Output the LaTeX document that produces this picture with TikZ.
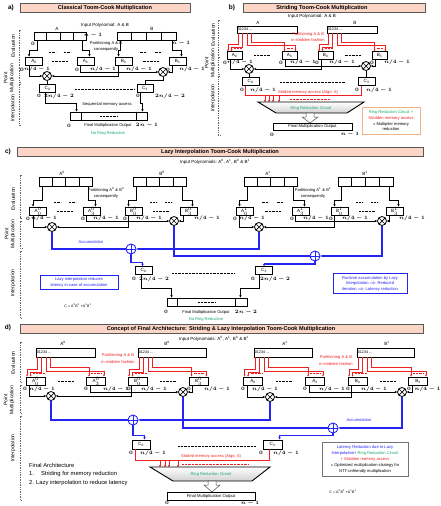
\documentclass[tikz,border=0pt]{standalone}
\usepackage{fontspec}
\setmainfont{Liberation Sans}
\usetikzlibrary{arrows.meta,calc}
\definecolor{tfill}{RGB}{251,213,198}
\definecolor{rred}{RGB}{238,32,36}
\definecolor{bblue}{RGB}{36,36,245}
\definecolor{ggreen}{RGB}{24,168,108}
\definecolor{oborder}{RGB}{242,178,138}
\newcounter{lc}
\newcommand\Sup[3]{$\textrm{#1}^{#2}_{#3}$}
\newcommand\zl[3]{\stepcounter{lc}\node[lb] (z\thelc) at (#1,#2) {$#3$};}
\newcommand\tl[4][]{\stepcounter{lc}\node[tx,#1] (t\thelc) at (#2,#3) {#4};}
\newcommand\arrdiv[1]{\foreach \f in {0.25,0.5,0.75}{\draw[ln] ($(#1.north west)!\f!(#1.north east)$) -- ($(#1.south west)!\f!(#1.south east)$);}}
\newcommand\blkfan[4]{%
 \draw[arr] ($(#1.south west)+(4,0)$) -- ++(0,#4) -| ($(#2.north west)+(4,0)$);
 \draw[arr] ($(#1.south east)+(-4,0)$) -- ++(0,#4) -| ($(#3.north east)+(-5,0)$);}
\newcommand\redfan[3]{%
 \draw[rarr] ($(#1.south west)+(2,0)$) |- ($(#2.north west)+(1.5,-7)$) -- ($(#2.north west)+(1.5,0)$);
 \draw[rarr] ($(#1.south west)+(6,0)$) |- ($(#2.north west)+(5,-4)$) -- ($(#2.north west)+(5,0)$);
 \draw[rarr] ($(#1.south west)+(15,0)$) |- ($(#3.north west)+(3,-9)$) -- ($(#3.north west)+(3,0)$);
 \draw[rarr] ($(#1.south west)+(11,0)$) |- ($(#3.north east)+(-2,-5.5)$) -- ($(#3.north east)+(-2,0)$);
 \draw[rdts] ($(#2.north west)+(7.5,-3)$) -- ($(#2.north east)+(-1,-3)$);
 \draw[rdts] ($(#3.north west)+(5,-3)$) -- ($(#3.north east)+(-4,-3)$);}
\newcommand\mulnet[6]{%
 \draw[arr] ($(#1.south west)+(4,0)$) |- (#5.west);
 \draw[arr] ($(#3.south west)+(4,0)$) |- (#5.east);
 \draw[arr] ($(#2.south west)+(4,0)$) |- (#6.west);
 \draw[arr] ($(#4.south west)+(4,0)$) |- (#6.east);}
\newcommand\topdots[2]{\path ($(#1)!0.5!(#2)$) coordinate (gc);
 \draw[dts] ($(gc)+(-11,-9)$) -- ++(7,0);
 \draw[dts] ($(gc)+(4,-9)$) -- ++(7,0);}
\newcommand\longdots[2]{\path ($(#1)!0.5!(#2)$) coordinate (gc);
 \draw[dts] ($(gc)+(-8,0)$) -- ++(16,0);}
\newcommand\brackets[7]{%
 \draw[brk] (#1+2,#2) -- (#1,#2) -- (#1,#3) -- (#1+2,#3);
 \draw[brk] (#1+2,#4) -- (#1,#4) -- (#1,#5) -- (#1+2,#5);
 \draw[brk] (#1+2,#6) -- (#1,#6) -- (#1,#7) -- (#1+2,#7);}
\begin{document}
\begin{tikzpicture}[x=1pt,y=-1pt,
 ln/.style={line width=0.9pt},
 arr/.style={line width=0.9pt,-{Stealth[length=2.5pt,width=2.3pt]}},
 rln/.style={rred,line width=0.75pt},
 rarr/.style={rred,line width=0.7pt,-{Stealth[length=2pt,width=2pt]}},
 bln/.style={bblue,line width=1.1pt},
 barr/.style={bblue,line width=1.1pt,-{Stealth[length=2.7pt,width=2.5pt]}},
 arrbox/.style={draw,line width=0.9pt,fill=white,inner sep=0,minimum height=8pt},
 seg/.style={draw,line width=0.9pt,fill=white,inner sep=0,minimum width=17pt,minimum height=8pt,font=\fontsize{4.6}{5}\selectfont},
 tx/.style={inner sep=0,font=\fontsize{4.1}{5}\selectfont},
 lb/.style={inner sep=0,font=\fontsize{4.7}{5}\selectfont\boldmath},
 ttl/.style={inner sep=0,font=\bfseries\fontsize{5.6}{6}\selectfont},
 tbar/.style={draw=black!65,fill=tfill,line width=0.7pt},
 plab/.style={inner sep=0,font=\bfseries\fontsize{6.5}{7}\selectfont},
 side/.style={rotate=90,inner sep=0,align=center,font=\fontsize{5}{6}\selectfont},
 brk/.style={black!60,line width=0.4pt,dash pattern=on 1pt off 0.7pt},
 dts/.style={line width=0.8pt,dash pattern=on 0.5pt off 0.9pt},
 rdts/.style={rred,line width=0.8pt,dash pattern=on 0.5pt off 0.9pt},
 mult/.style={circle,draw,line width=0.8pt,fill=white,minimum size=9pt,inner sep=0,
   path picture={\draw[line width=0.7pt] (path picture bounding box.south west)--(path picture bounding box.north east) (path picture bounding box.north west)--(path picture bounding box.south east);}},
 adder/.style={circle,draw=bblue,line width=0.9pt,fill=white,minimum size=10pt,inner sep=0,
   path picture={\draw[bblue,line width=0.8pt] (path picture bounding box.north)--(path picture bounding box.south) (path picture bounding box.west)--(path picture bounding box.east);}},
 hollow/.style={draw=black!70,fill=white,line width=0.5pt},
 trap/.style={line width=0.9pt,top color=white,bottom color=black!18},
]
\fill[white] (0,0) rectangle (440,506);
\useasboundingbox (0,0) rectangle (440,506);

%%%%%%%%%%%%%%%% PANEL A
\draw[tbar] (20,3) rectangle (190,12);
\node[ttl] (ta) at (105,7.6) {Classical Toom-Cook Multiplication};
\node[plab] (pa) at (11,7.5) {a)};
\tl[font=\fontsize{4.5}{5}\selectfont]{105}{25}{Input Polynomial: A \& B}
\node[arrbox,minimum width=52pt] (aA) at (60,36) {}; \arrdiv{aA}
\node[arrbox,minimum width=59pt] (aB) at (146.5,36) {}; \arrdiv{aB}
\tl[font=\fontsize{4.6}{5}\selectfont]{57}{28.5}{A}
\tl[font=\fontsize{4.6}{5}\selectfont]{152}{28.5}{B}
\zl{93}{35.5}{n-1} \zl{33}{43.5}{0} \zl{181}{43.5}{n-1}
\tl{106}{43.5}{Partitioning A \& B}
\tl{106}{49.5}{consequently}
\node[seg] (aA0) at (34,61) {A\textsubscript{0}};
\node[seg] (aA3) at (85.5,61) {A\textsubscript{3}};
\node[seg] (aB0) at (123.5,61) {B\textsubscript{0}};
\node[seg] (aB3) at (177.5,61) {B\textsubscript{3}};
\blkfan{aA}{aA0}{aA3}{10}
\blkfan{aB}{aB0}{aB3}{10}
\topdots{aA0}{aA3} \longdots{aA0}{aA3}
\topdots{aB0}{aB3} \longdots{aB0}{aB3}
\zl{22}{69.5}{0} \zl{37}{69.5}{n/4-1}
\zl{77}{69.5}{0} \zl{103}{69.5}{n/4-1}
\zl{139}{69.5}{n/4-1}
\zl{168}{69.5}{0} \zl{192}{69.5}{n/4-1}
\node[mult] (am1) at (47,76) {};
\node[mult] (am2) at (163,72) {};
\mulnet{aA0}{aA3}{aB0}{aB3}{am1}{am2}
\node[seg,minimum width=16pt] (aC0) at (47.5,88) {C\textsubscript{0}};
\node[seg,minimum width=16pt] (aC3) at (145,88) {C\textsubscript{3}};
\draw[ln] (am1.south) -- (am1.south |- aC0.north);
\draw[ln] (am2.south) -- ++(0,4) -| (aC3.north);
\draw[dts] (75,89) -- (135,89);
\zl{39}{96}{0} \zl{59}{96}{2n/4-2}
\zl{138}{96}{0} \zl{170}{96}{2n/4-2}
\node[arrbox,minimum width=77pt] (aF) at (108.5,116) {};
\draw[ln] ($(aF.north west)+(12,0)$) -- ($(aF.south west)+(12,0)$);
\draw[ln] ($(aF.north east)+(-11,0)$) -- ($(aF.south east)+(-11,0)$);
\draw[dts] (100,116) -- (118,116);
\draw[arr] ($(aC0.south west)+(6,0)$) -- ++(0,11) -| ($(aF.north west)+(7,0)$);
\draw[arr] ($(aC3.south west)+(4,0)$) -- ++(0,11) -| ($(aF.north east)+(-5,0)$);
\tl{107}{104}{Sequential memory access}
\zl{69}{125.5}{0}
\tl{108}{125.5}{Final Multiplication Output}
\zl{147}{125.5}{2n-1}
\tl[text=ggreen]{108}{133}{No Ring Reduction}
\brackets{19}{30}{68}{70}{82}{84}{125}
\node[side] (sa1) at (13,46) {Evaluation};
\node[side] (sa2) at (9,78) {Point\\Multiplication};
\node[side] (sa3) at (13,108) {Interpolation};

%%%%%%%%%%%%%%%% PANEL B
\draw[tbar] (243,3) rectangle (425,12);
\node[ttl] (tb) at (322,7.6) {Striding Toom-Cook Multiplication};
\node[plab] (pb) at (232,7.5) {b)};
\tl[font=\fontsize{4.5}{5}\selectfont]{312}{16}{Input Polynomial: A \& B}
\node[arrbox,minimum width=60pt,minimum height=7pt] (bA) at (267,29.5) {};
\node[arrbox,minimum width=50pt,minimum height=7pt] (bB) at (352,29.5) {};
\node[tx,anchor=west,font=\fontsize{3.8}{4}\selectfont] (bAt) at ($(bA.west)+(1,0)$) {01234 ...};
\node[tx,anchor=west,font=\fontsize{3.8}{4}\selectfont] (bBt) at ($(bB.west)+(1,0)$) {01234 ...};
\tl[font=\fontsize{4.6}{5}\selectfont]{258}{22.5}{A}
\tl[font=\fontsize{4.6}{5}\selectfont]{355}{22.5}{B}
\tl[text=rred]{308}{34}{Partitioning A \& B}
\tl[text=rred]{308}{40.5}{in stridden fashion}
\node[seg,minimum width=15pt,minimum height=7.5pt] (bA0) at (234.5,55.5) {A\textsubscript{0}};
\node[seg,minimum width=15pt,minimum height=7.5pt] (bA3) at (289.5,55.5) {A\textsubscript{3}};
\node[seg,minimum width=15pt,minimum height=7.5pt] (bB0) at (325.5,55.5) {B\textsubscript{0}};
\node[seg,minimum width=15pt,minimum height=7.5pt] (bB3) at (379.5,55.5) {B\textsubscript{3}};
\redfan{bA}{bA0}{bA3}
\redfan{bB}{bB0}{bB3}
\longdots{bA0}{bA3} \longdots{bB0}{bB3}
\zl{225}{62.5}{0} \zl{240}{62.5}{n/4-1}
\zl{281}{62.5}{0} \zl{303}{62.5}{n/4-1}
\zl{317}{62.5}{0} \zl{342}{62.5}{n/4-1}
\zl{372}{62.5}{0} \zl{397}{62.5}{n/4-1}
\node[mult] (bm1) at (249,69) {};
\node[mult] (bm2) at (366,66) {};
\mulnet{bA0}{bA3}{bB0}{bB3}{bm1}{bm2}
\node[seg] (bC0) at (250.5,81.5) {C\textsubscript{0}};
\node[seg] (bC3) at (366.5,81.5) {C\textsubscript{3}};
\draw[ln] (bm1.south) -- (bm1.south |- bC0.north);
\draw[ln] (bm2.south) -- (bm2.south |- bC3.north);
\draw[dts] (280,82) -- (345,82);
\zl{242}{90}{0} \zl{263}{90}{n/4-1}
\zl{357}{90}{0} \zl{379}{90}{n/4-1}
\tl[text=rred]{308}{92}{Strided memory access (Algo. 6)}
\draw[rln] ($(bC0.south west)+(4,0)$) -- ++(0,9.5) -| ($(bC3.south west)+(4,0)$);
\coordinate (bT1) at (258,102); \coordinate (bT2) at (364,102);
\coordinate (bT3) at (347,113); \coordinate (bT4) at (276,113);
\foreach \x in {265,269,273,279}{\draw[rarr] (\x,95) -- (\x,102);}
\draw[rdts] (290,99) -- (330,99);
\draw[trap] (bT1) -- (bT2) -- (bT3) -- (bT4) -- cycle;
\tl[text=ggreen]{311}{108}{Ring Reduction Circuit}
\draw[hollow] (306,113) -- (314,113) -- (314,117) -- (318,117) -- (310,123) -- (302,117) -- (306,117) -- cycle;
\node[arrbox,minimum width=79pt,minimum height=7pt,font=\fontsize{4.2}{5}\selectfont] (bF) at (312.5,126.5) {Final Multiplication Output};
\zl{272}{134.5}{0} \zl{350}{134.5}{n-1}
\draw[oborder,line width=0.7pt] (362,107) rectangle (420,134);
\tl[text=ggreen]{391}{112}{Ring Reduction Circuit +}
\tl[text=rred]{391}{118}{Stridden memory access}
\tl{391}{124}{= Multiplier memory}
\tl{391}{129.5}{reduction}
\brackets{218}{20}{55}{57}{74}{76}{135}
\node[side] (sb1) at (213,35) {Evaluation};
\node[side] (sb2) at (210,63) {Point\\Multiplication};
\node[side] (sb3) at (213,98) {Interpolation};

%%%%%%%%%%%%%%%% PANEL C
\draw[tbar] (17,147) rectangle (423,156);
\node[ttl] (tc) at (220,151.6) {Lazy Interpolation Toom-Cook Multiplication};
\node[plab] (pc) at (8,152) {c)};
\tl[font=\fontsize{4.5}{5}\selectfont]{215}{162}{Input Polynomials: A\textsuperscript{0}, A\textsuperscript{1}, B\textsuperscript{0} \& B\textsuperscript{1}}
\node[arrbox,minimum width=53pt,minimum height=9pt] (cA0) at (65.5,181.5) {}; \arrdiv{cA0}
\node[arrbox,minimum width=53pt,minimum height=9pt] (cB0) at (159.5,181.5) {}; \arrdiv{cB0}
\node[arrbox,minimum width=53pt,minimum height=9pt] (cA1) at (270.5,181.5) {}; \arrdiv{cA1}
\node[arrbox,minimum width=55pt,minimum height=9pt] (cB1) at (365.5,181.5) {}; \arrdiv{cB1}
\tl[font=\fontsize{4.6}{5}\selectfont]{62}{173}{A\textsuperscript{0}}
\tl[font=\fontsize{4.6}{5}\selectfont]{162}{173}{B\textsuperscript{0}}
\tl[font=\fontsize{4.6}{5}\selectfont]{268}{173}{A\textsuperscript{1}}
\tl[font=\fontsize{4.6}{5}\selectfont]{365}{173}{B\textsuperscript{1}}
\tl{106}{190}{Partitioning A\textsuperscript{0} \& B\textsuperscript{0}}
\tl{106}{196}{consequently}
\tl{313}{190}{Partitioning A\textsuperscript{1} \& B\textsuperscript{1}}
\tl{313}{196}{consequently}
\node[seg] (cA00) at (38,211) {\Sup{A}{0}{0}};
\node[seg] (cA03) at (91.5,211) {\Sup{A}{0}{3}};
\node[seg] (cB00) at (133.5,211) {\Sup{B}{0}{0}};
\node[seg] (cB03) at (188.5,211) {\Sup{B}{0}{3}};
\node[seg] (cA10) at (244.5,211) {\Sup{A}{1}{0}};
\node[seg] (cA13) at (300.5,211) {\Sup{A}{1}{3}};
\node[seg] (cB10) at (339.5,211) {\Sup{B}{1}{0}};
\node[seg] (cB13) at (394.5,211) {\Sup{B}{1}{3}};
\blkfan{cA0}{cA00}{cA03}{14} \blkfan{cB0}{cB00}{cB03}{14}
\blkfan{cA1}{cA10}{cA13}{14} \blkfan{cB1}{cB10}{cB13}{14}
\topdots{cA00}{cA03} \longdots{cA00}{cA03}
\topdots{cB00}{cB03} \longdots{cB00}{cB03}
\topdots{cA10}{cA13} \longdots{cA10}{cA13}
\topdots{cB10}{cB13} \longdots{cB10}{cB13}
\zl{28}{218.5}{0} \zl{44}{218.5}{n/4-1}
\zl{83}{218.5}{0} \zl{106}{218.5}{n/4-1}
\zl{125}{218.5}{0} \zl{149}{218.5}{n/4-1}
\zl{207}{218.5}{n/4-1}
\zl{235}{218.5}{0} \zl{252}{218.5}{n/4-1}
\zl{292}{218.5}{0} \zl{316}{218.5}{n/4-1}
\zl{331}{218.5}{0} \zl{355}{218.5}{n/4-1}
\zl{412}{218.5}{n/4-1}
\node[mult] (cm1) at (52,227) {};
\node[mult] (cm2) at (174,221) {};
\node[mult] (cm3) at (259,227) {};
\node[mult] (cm4) at (382,221) {};
\mulnet{cA00}{cA03}{cB00}{cB03}{cm1}{cm2}
\mulnet{cA10}{cA13}{cB10}{cB13}{cm3}{cm4}
\node[adder] (cp1) at (131,249) {};
\node[adder] (cp2) at (315,256) {};
\node[seg,minimum height=7.5pt] (cC0) at (143.5,270.5) {C\textsubscript{0}};
\node[seg,minimum height=7.5pt] (cC3) at (264,270.5) {C\textsubscript{3}};
\draw[bln] (cm1.south) |- (cp1.west);
\draw[barr] (cm3.south) |- (cp1.east);
\draw[barr] (cp1.south) -- ++(0,8) -| ($(cC0.north west)+(8,0)$);
\draw[bln] (cm2.south) |- (cp2.west);
\draw[barr] (cm4.south) |- (cp2.east);
\draw[barr] (cp2.south) -- ++(0,2.5) -| ($(cC3.north west)+(9,0)$);
\tl[text=bblue]{91}{242}{Accumulation}
\draw[dts] (172,273) -- (235,273);
\zl{134}{279}{0} \zl{154}{279}{2n/4-2}
\zl{253}{279}{0} \zl{275}{279}{2n/4-2}
\node[arrbox,minimum width=80pt] (cF) at (207,302) {};
\draw[ln] ($(cF.north west)+(11,0)$) -- ($(cF.south west)+(11,0)$);
\draw[ln] ($(cF.north east)+(-12,0)$) -- ($(cF.south east)+(-12,0)$);
\draw[dts] (198,302) -- (215,302);
\draw[arr] ($(cC0.south west)+(7,0)$) -- ++(0,13.5) -| ($(cF.north west)+(5,0)$);
\draw[arr] ($(cC3.south west)+(4,0)$) -- ++(0,13.5) -| ($(cF.north east)+(-7,0)$);
\zl{166}{312}{0}
\tl{206}{312}{Final Multiplication Output}
\zl{246}{312}{2n-2}
\tl[text=ggreen]{206}{319}{No Ring Reduction}
\draw[bblue,line width=0.6pt] (40,275) rectangle (118,289);
\tl[text=bblue]{79}{279.5}{Lazy interpolation reduces}
\tl[text=bblue]{79}{285}{latency in case of accumulation}
\tl[font=\fontsize{3.6}{4}\selectfont]{78}{306}{C = A\textsuperscript{0}B\textsuperscript{0} +A\textsuperscript{1}B\textsuperscript{1}}
\draw[bblue,line width=0.6pt] (333,273) rectangle (407,293);
\tl[text=bblue]{370}{278}{Runtime accumulation by Lazy}
\tl[text=bblue]{370}{283.5}{Interpolation $\Rightarrow$ Reduced}
\tl[text=bblue]{370}{289}{iteration $\Rightarrow$ Latency reduction}
\brackets{20}{175}{218}{221}{248}{251}{318}
\node[side] (sc1) at (13,199) {Evaluation};
\node[side] (sc2) at (10,234) {Point\\Multiplication};
\node[side] (sc3) at (13,283) {Interpolation};

%%%%%%%%%%%%%%%% PANEL D
\draw[tbar] (20,324) rectangle (423,333);
\node[ttl] (td) at (221,328.6) {Concept of Final Architecture: Striding \& Lazy Interpolation Toom-Cook Multiplication};
\node[plab] (pd) at (8,328) {d)};
\tl[font=\fontsize{4.5}{5}\selectfont]{214}{339}{Input Polynomials: A\textsuperscript{0}, A\textsuperscript{1}, B\textsuperscript{0} \& B\textsuperscript{1}}
\node[arrbox,minimum width=59pt,minimum height=9pt] (dA0) at (65.5,352.5) {};
\node[arrbox,minimum width=68pt,minimum height=9pt] (dB0) at (172,352.5) {};
\node[arrbox,minimum width=58pt,minimum height=9pt] (dA1) at (283,352.5) {};
\node[arrbox,minimum width=57pt,minimum height=9pt] (dB1) at (385.5,352.5) {};
\foreach \n in {dA0,dB0,dA1,dB1}{\node[tx,anchor=west,font=\fontsize{3.8}{4}\selectfont] (\n t) at ($(\n.west)+(1,0)$) {01234 ...};}
\tl[font=\fontsize{4.6}{5}\selectfont]{63}{343.5}{A\textsuperscript{0}}
\tl[font=\fontsize{4.6}{5}\selectfont]{167}{343.5}{B\textsuperscript{0}}
\tl[font=\fontsize{4.6}{5}\selectfont]{285}{343.5}{A\textsuperscript{1}}
\tl[font=\fontsize{4.6}{5}\selectfont]{387}{343.5}{B\textsuperscript{1}}
\tl[text=rred]{118}{355.5}{Partitioning A \& B}
\tl[text=rred]{118}{362.5}{in stridden fashion}
\tl[text=rred]{336}{357.5}{Partitioning A \& B}
\tl[text=rred]{336}{364}{in stridden fashion}
\node[seg,minimum width=19pt] (dA00) at (35.5,381) {\Sup{A}{0}{0}};
\node[seg,minimum width=19pt] (dA03) at (96,381) {\Sup{A}{0}{3}};
\node[seg,minimum width=19pt] (dB00) at (137.5,381) {\Sup{B}{0}{0}};
\node[seg,minimum width=19pt] (dB03) at (198.5,381) {\Sup{B}{0}{3}};
\node[seg,minimum width=19pt] (dA10) at (253,381) {A\textsubscript{0}};
\node[seg,minimum width=19pt] (dA13) at (315,381) {A\textsubscript{3}};
\node[seg,minimum width=19pt] (dB10) at (357.5,381) {B\textsubscript{0}};
\node[seg,minimum width=19pt] (dB13) at (418,381) {B\textsubscript{3}};
\redfan{dA0}{dA00}{dA03} \redfan{dB0}{dB00}{dB03}
\redfan{dA1}{dA10}{dA13} \redfan{dB1}{dB10}{dB13}
\longdots{dA00}{dA03} \longdots{dB00}{dB03}
\longdots{dA10}{dA13} \longdots{dB10}{dB13}
\zl{25}{389}{0} \zl{42}{389}{n/4-1}
\zl{86}{389}{0} \zl{116}{389}{n/4-1}
\zl{129}{389}{0} \zl{154}{389}{n/4-1}
\zl{189}{389}{0} \zl{217}{389}{n/4-1}
\zl{243}{389}{0} \zl{265}{389}{n/4-1}
\zl{305}{389}{0} \zl{332}{389}{n/4-1}
\zl{348}{389}{0} \zl{374}{389}{n/4-1}
\zl{409}{389}{0} \zl{427.5}{389}{n/4-1}
\node[mult] (dm1) at (51,396) {};
\node[mult] (dm2) at (183,392) {};
\node[mult] (dm3) at (270,397) {};
\node[mult] (dm4) at (402,392) {};
\mulnet{dA00}{dA03}{dB00}{dB03}{dm1}{dm2}
\mulnet{dA10}{dA13}{dB10}{dB13}{dm3}{dm4}
\node[adder] (dp1) at (133,420) {};
\node[adder] (dp2) at (333,428) {};
\node[seg,minimum width=18pt,minimum height=9pt] (dC0) at (141,444.5) {C\textsubscript{0}};
\node[seg,minimum width=19pt,minimum height=9pt] (dC3) at (272.5,444.5) {C\textsubscript{3}};
\draw[bln] (dm1.south) |- (dp1.west);
\draw[barr] (dm3.south) |- (dp1.east);
\draw[barr] (dp1.south) -- ++(0,10) -| ($(dC0.north west)+(13,0)$);
\draw[bln] (dm2.south) |- (dp2.west);
\draw[barr] (dm4.south) |- (dp2.east);
\draw[barr] (dp2.south) -- ++(0,2) -| ($(dC3.north west)+(17,0)$);
\tl[text=bblue]{359}{420}{Accumulation}
\draw[dts] (178,446) -- (256,446);
\zl{131}{453}{0} \zl{153}{453}{n/4-1}
\zl{261}{453}{0} \zl{286}{453}{n/4-1}
\tl[text=rred]{211}{456}{Strided memory access (Algo. 6)}
\draw[rln] ($(dC0.south west)+(4,0)$) -- ++(0,11) -| ($(dC3.south west)+(7,0)$);
\coordinate (dT1) at (150,467); \coordinate (dT2) at (270,467);
\coordinate (dT3) at (252,481); \coordinate (dT4) at (173,481);
\foreach \x in {160,165,169,178}{\draw[rarr] (\x,460) -- (\x,467);}
\draw[rdts] (182,464) -- (248,464);
\draw[trap] (dT1) -- (dT2) -- (dT3) -- (dT4) -- cycle;
\tl[text=ggreen]{211}{474}{Ring Reduction Circuit}
\draw[hollow] (208,481) -- (216,481) -- (216,485) -- (220,485) -- (212,492) -- (204,485) -- (208,485) -- cycle;
\node[arrbox,minimum width=88pt,minimum height=8pt,font=\fontsize{4.2}{5}\selectfont] (dF) at (211,496) {Final Multiplication Output};
\zl{167}{503.3}{0} \zl{250}{503}{n-1}
\node[tx,anchor=west,font=\fontsize{5.8}{6}\selectfont] (fa1) at (29,465) {Final Architecture};
\node[tx,anchor=west,font=\fontsize{5.8}{6}\selectfont] (fa2) at (29,474) {1.\hspace{7pt}Striding for memory reduction};
\node[tx,anchor=west,font=\fontsize{5.8}{6}\selectfont] (fa3) at (29,483) {2. Lazy interpolation to reduce latency};
\draw[black!55,line width=0.7pt] (322,442) rectangle (408,476);
\tl[text=bblue]{365}{447}{Latency Reduction due to Lazy}
\tl{365}{453}{{\color{bblue}Interpolation+} {\color{ggreen}Ring Reduction Circuit}}
\tl[text=rred]{365}{459}{+ Stridden memory access}
\tl{365}{465}{= Optimized multiplication strategy for}
\tl{365}{471}{NTT-unfriendly multiplication}
\tl[font=\fontsize{3.6}{4}\selectfont]{343}{492}{C = A\textsuperscript{0}B\textsuperscript{0} +A\textsuperscript{1}B\textsuperscript{1}}
\brackets{20}{342}{382}{385}{413}{416}{500}
\node[side] (sd1) at (13,363) {Evaluation};
\node[side] (sd2) at (9,400) {Point\\Multiplication};
\node[side] (sd3) at (13,448) {Interpolation};
\end{tikzpicture}
\end{document}
